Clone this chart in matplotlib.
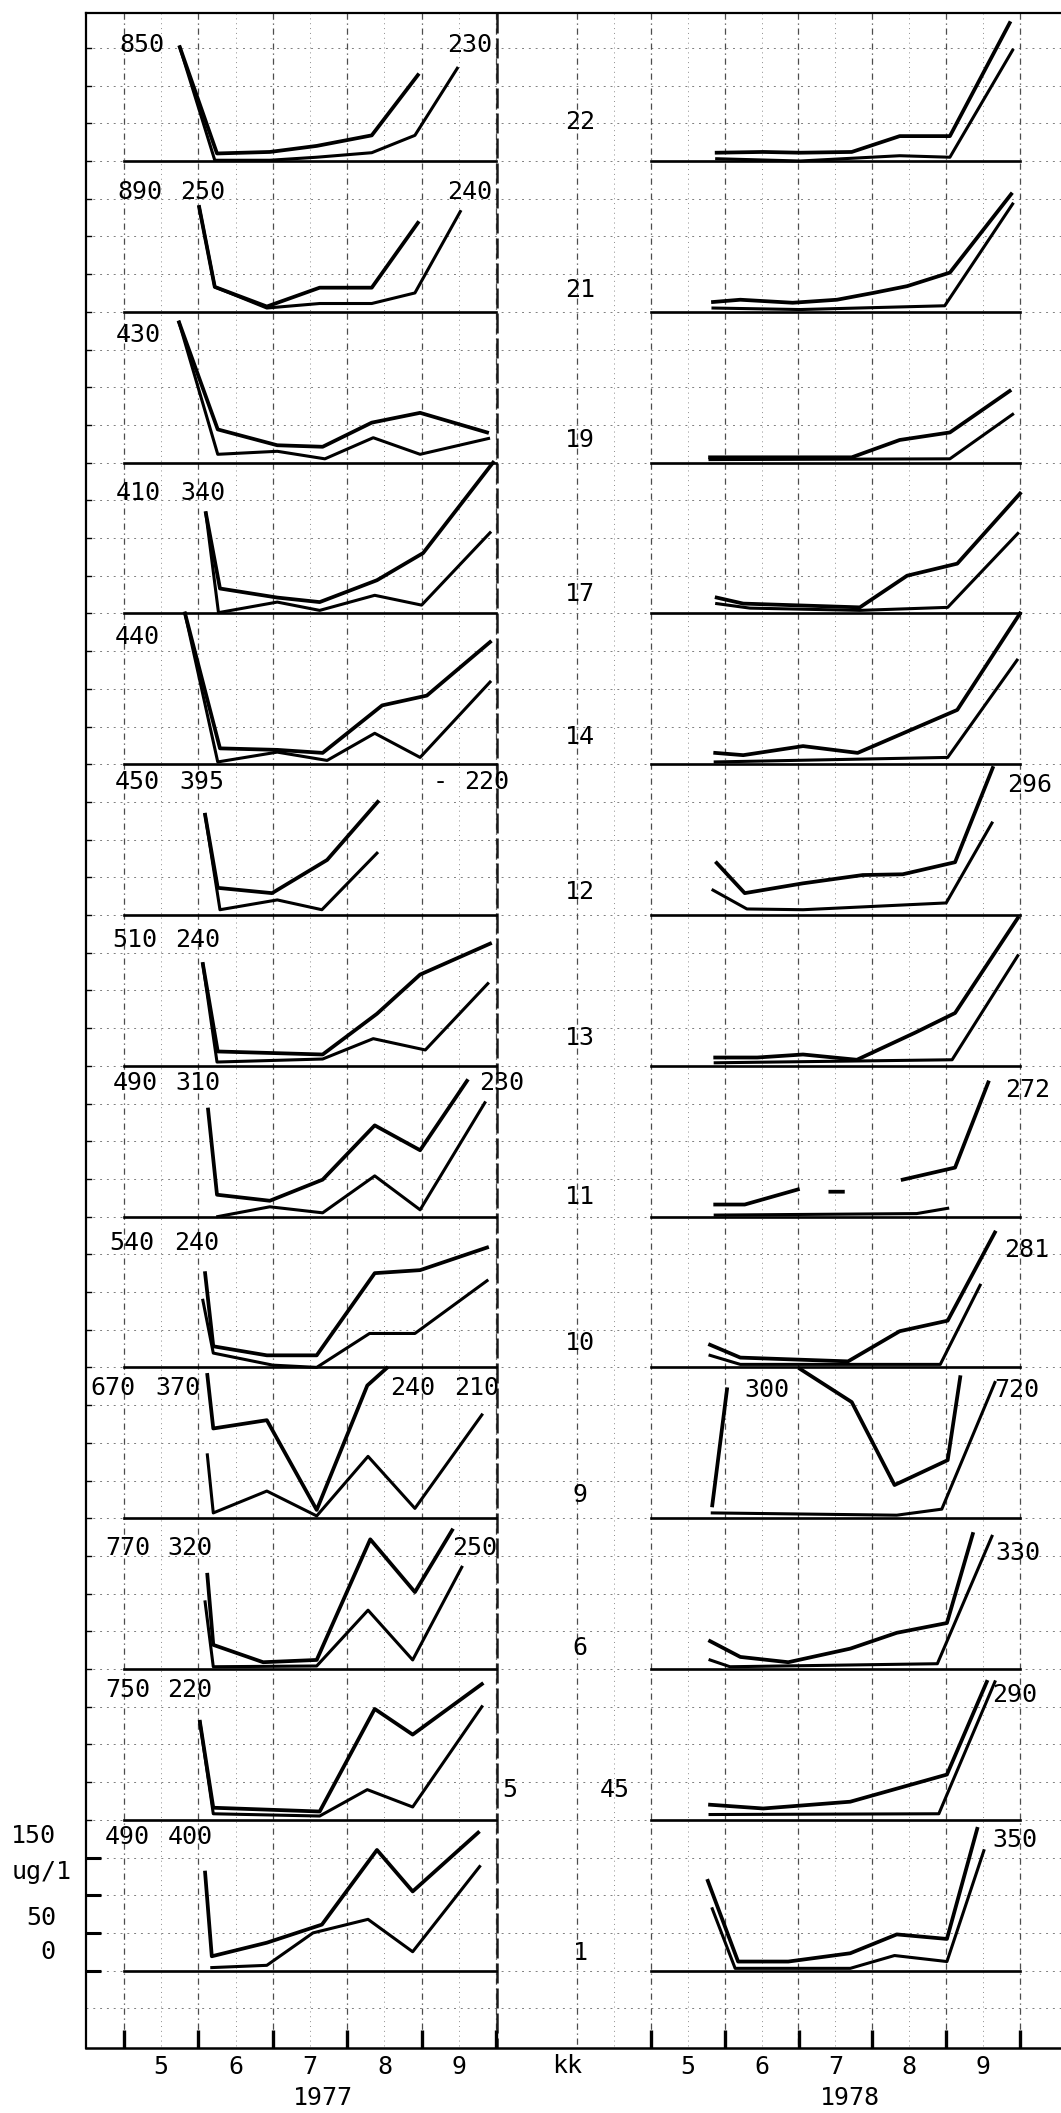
import numpy as np
import matplotlib
matplotlib.use("Agg")
import matplotlib.pyplot as plt

nan = np.nan

# ---------------- data (months as decimal, values in ug/l as drawn) ----------------
stations = ["22", "21", "19", "17", "14", "12", "13", "11", "10", "9", "6", "5 45", "1"]
months = ["5", "6", "7", "8", "9"]
years = ["1977", "1978"]

x77_up = {
    "22": [5.75, 6.25, 6.96, 7.59, 8.33, 8.95],
    "21": [6.01, 6.22, 6.92, 7.63, 8.33, 8.95],
    "19": [5.74, 6.26, 7.06, 7.67, 8.33, 8.98, 9.88],
    "17": [6.10, 6.29, 7.06, 7.63, 8.40, 9.02, 9.96],
    "14": [5.82, 6.29, 7.06, 7.67, 8.47, 9.07, 9.92],
    "12": [6.09, 6.26, 6.99, 7.73, 8.41],
    "13": [6.06, 6.26, 7.67, 8.40, 8.98, 9.92],
    "11": [6.13, 6.25, 6.96, 7.67, 8.37, 8.98, 9.61],
    "10": [6.09, 6.20, 6.92, 7.59, 8.37, 8.98, 9.88],
    "9":  [6.12, 6.20, 6.92, 7.59, 8.27, 8.53],
    "6":  [6.12, 6.20, 6.87, 7.59, 8.31, 8.91, 9.41],
    "5 45": [6.02, 6.20, 7.63, 8.37, 8.88, 9.81],
    "1":  [6.09, 6.18, 6.92, 7.66, 8.40, 8.88, 9.76],
}
v77_up = {
    "22": [151, 10, 12, 20, 34, 114],
    "21": [139, 33, 7, 32, 32, 118],
    "19": [186, 44, 23, 21, 53, 66, 40],
    "17": [133, 33, 21, 15, 44, 80, 200],
    "14": [200, 21, 19, 15, 78, 91, 162],
    "12": [133, 36, 29, 73, 150],
    "13": [135, 19, 15, 69, 121, 162],
    "11": [142, 29, 21, 49, 121, 88, 180],
    "10": [125, 28, 16, 16, 125, 129, 159],
    "9":  [190, 119, 130, 11, 176, 199],
    "6":  [125, 32, 9, 12, 172, 102, 184],
    "5 45": [130, 16, 11, 147, 113, 180],
    "1":  [130, 19, 37, 61, 160, 105, 183],
}
x77_lo = {
    "22": [5.75, 6.22, 6.96, 7.59, 8.33, 8.91, 9.48],
    "21": [6.01, 6.22, 6.92, 7.63, 8.33, 8.91, 9.52],
    "19": [5.74, 6.26, 7.06, 7.70, 8.35, 8.98, 9.90],
    "17": [6.10, 6.27, 7.06, 7.63, 8.37, 9.00, 9.92],
    "14": [5.82, 6.26, 7.06, 7.73, 8.37, 8.98, 9.92],
    "12": [6.09, 6.29, 7.06, 7.66, 8.40],
    "13": [6.06, 6.25, 7.67, 8.35, 9.05, 9.89],
    "11": [6.26, 6.96, 7.67, 8.37, 8.98, 9.85],
    "10": [6.06, 6.20, 7.00, 7.59, 8.30, 8.91, 9.88],
    "9":  [6.12, 6.20, 6.92, 7.59, 8.28, 8.91, 9.81],
    "6":  [6.09, 6.20, 7.59, 8.28, 8.88, 9.54],
    "5 45": [6.02, 6.20, 7.63, 8.27, 8.88, 9.81],
    "1":  [6.18, 6.92, 7.54, 8.28, 8.88, 9.78],
}
v77_lo = {
    "22": [151, 1, 1, 5, 11, 34, 123],
    "21": [139, 33, 5, 11, 11, 25, 133],
    "19": [186, 11, 15, 5, 33, 11, 32],
    "17": [133, 1, 15, 4, 24, 11, 107],
    "14": [200, 3, 16, 5, 41, 9, 109],
    "12": [133, 7, 20, 7, 82],
    "13": [135, 5, 9, 36, 21, 109],
    "11": [0, 13, 5, 54, 9, 151],
    "10": [89, 19, 3, 0, 45, 45, 115],
    "9":  [84, 7, 36, 3, 82, 13, 137],
    "6":  [89, 3, 4, 78, 12, 135],
    "5 45": [130, 8, 5, 40, 17, 150],
    "1":  [4, 7, 50, 68, 25, 138],
}
x78_up = {
    "22": [5.89, 6.52, 7.02, 7.72, 8.37, 9.05, 9.86],
    "21": [5.84, 6.21, 6.92, 7.52, 8.01, 8.47, 9.05, 9.88],
    "19": [5.80, 7.02, 7.72, 8.37, 9.05, 9.86],
    "17": [5.89, 6.25, 7.83, 8.47, 9.15, 10.0],
    "14": [5.87, 6.25, 7.06, 7.80, 9.15, 10.0],
    "12": [5.89, 6.27, 7.06, 7.87, 8.41, 9.12, 9.63],
    "13": [5.87, 6.44, 7.06, 7.79, 8.58, 9.12, 9.97],
    "11": [5.87, 6.27, 6.99, 7.20, 7.43, 7.60, 7.90, 8.41, 9.12, 9.57],
    "10": [5.80, 6.21, 7.67, 8.37, 9.02, 9.66],
    "9":  [5.83, 6.03, 6.50, 7.02, 7.72, 8.30, 9.02, 9.19],
    "6":  [5.80, 6.21, 6.86, 7.70, 8.33, 9.01, 9.36],
    "5 45": [5.80, 6.52, 7.70, 9.01, 9.55],
    "1":  [5.77, 6.18, 6.86, 7.70, 8.33, 9.01, 9.42],
}
v78_up = {
    "22": [11, 12, 11, 12, 33, 33, 183],
    "21": [13, 16, 12, 16, 25, 34, 52, 156],
    "19": [7, 7, 7, 30, 40, 95],
    "17": [21, 13, 8, 50, 66, 159],
    "14": [15, 12, 24, 15, 72, 200],
    "12": [69, 29, 42, 53, 54, 70, 195],
    "13": [11, 11, 15, 8, 44, 70, 196],
    "11": [16, 16, 36, nan, 33, 33, nan, 49, 65, 178],
    "10": [30, 13, 8, 48, 62, 179],
    "9":  [17, 171, nan, 198, 154, 44, 77, 187],
    "6":  [37, 16, 9, 27, 48, 61, 179],
    "5 45": [20, 15, 24, 60, 183],
    "1":  [119, 12, 12, 23, 48, 42, 188],
}
x78_lo = {
    "22": [5.89, 7.02, 8.37, 9.05, 9.90],
    "21": [5.84, 7.02, 8.98, 9.90],
    "19": [5.80, 9.05, 9.90],
    "17": [5.89, 6.34, 7.83, 9.02, 9.97],
    "14": [5.87, 9.02, 9.96],
    "12": [5.84, 6.30, 7.06, 9.00, 9.62],
    "13": [5.87, 9.08, 9.97],
    "11": [5.87, 8.60, 9.02],
    "10": [5.80, 6.21, 8.92, 9.46],
    "9":  [5.83, 8.33, 8.94, 9.66],
    "6":  [5.80, 6.07, 8.88, 9.62],
    "5 45": [5.80, 8.90, 9.66],
    "1":  [5.83, 6.14, 7.70, 8.30, 9.01, 9.51],
}
v78_lo = {
    "22": [3, 0, 7, 5, 147],
    "21": [5, 3, 8, 143],
    "19": [4, 5, 64],
    "17": [13, 7, 4, 8, 106],
    "14": [3, 9, 138],
    "12": [33, 8, 7, 16, 122],
    "13": [4, 8, 146],
    "11": [2, 4, 11],
    "10": [16, 4, 4, 109],
    "9":  [7, 4, 12, 180],
    "6":  [12, 3, 7, 176],
    "5 45": [7, 8, 183],
    "1":  [82, 3, 3, 20, 12, 159],
}

# off-scale values written on the chart (text, x px, y px)
peak_labels = [
    ("850", 142, 45), ("230", 470, 45),
    ("890", 140, 192), ("250", 203, 192), ("240", 470, 192),
    ("430", 138, 335),
    ("410", 138, 493), ("340", 203, 493),
    ("440", 137, 637),
    ("450", 137, 782), ("395", 202, 782), ("-", 440, 782), ("220", 487, 782),
    ("296", 1030, 785),
    ("510", 135, 940), ("240", 198, 940),
    ("490", 135, 1083), ("310", 198, 1083), ("230", 502, 1083),
    ("272", 1028, 1090),
    ("540", 132, 1243), ("240", 197, 1243),
    ("281", 1027, 1250),
    ("670", 113, 1388), ("370", 178, 1388), ("240", 413, 1388), ("210", 477, 1388),
    ("300", 767, 1390), ("720", 1017, 1390),
    ("770", 128, 1548), ("320", 190, 1548), ("250", 475, 1548),
    ("330", 1018, 1553),
    ("750", 128, 1690), ("220", 190, 1690),
    ("290", 1015, 1695),
    ("490", 127, 1837), ("400", 190, 1837),
    ("350", 1015, 1840),
]
station_label_y = [122, 290, 440, 594, 737, 892, 1038, 1197, 1343, 1495, 1648, 1790, 1953]

# ---------------- layout ----------------
W, H, DPI = 1061, 2113, 100
FONT = "DejaVu Sans Mono"
FS = 18
plt.rcParams["font.family"] = [FONT, "DejaVu Sans"]

fig = plt.figure(figsize=(W / DPI, H / DPI), dpi=DPI)
fig.patch.set_facecolor("white")

bg = fig.add_axes([0, 0, 1, 1])
bg.set_xlim(0, W)
bg.set_ylim(H, 0)
bg.axis("off")

ROW0, ROWH = 161.0, 150.8          # baseline of first row, row height (px) = 200 ug/l
TOP, BOT, FRAME_X = 13, 2048, 86
panels = [(124.0, 496.0), (651.0, 1020.0)]   # px of month 5.0 and 10.0

# horizontal dotted grid every 50 ug/l
for j in range(0, 54):
    y = ROW0 - ROWH + j * ROWH / 4
    if y < TOP + 2 or y > BOT - 2:
        continue
    bg.plot([FRAME_X, W], [y, y], color="0.5", lw=0.7, ls=(0, (2, 5)), zorder=1)

# vertical grid
for k in range(11):
    x = 124 + k * 37.2
    major = k % 2 == 0
    bg.plot([x, x], [TOP, BOT], color="0.3" if major else "0.55",
            lw=0.9 if major else 0.7, ls=(0, (5, 3, 1, 3)) if major else (0, (1, 4)), zorder=1)
for k in range(13):
    x = 577 + k * 36.9
    major = k % 2 == 0
    bg.plot([x, x], [TOP, BOT], color="0.3" if major else "0.55",
            lw=0.9 if major else 0.7, ls=(0, (5, 3, 1, 3)) if major else (0, (1, 4)), zorder=1)
bg.plot([497, 497], [TOP, BOT], color="0.1", lw=1.8, ls=(0, (8, 2)), zorder=2)

# frame
bg.plot([FRAME_X, W], [TOP, TOP], color="k", lw=1.6, zorder=3)
bg.plot([FRAME_X, FRAME_X], [TOP, BOT], color="k", lw=1.6, zorder=3)
bg.plot([FRAME_X, W], [BOT, BOT], color="k", lw=1.8, zorder=3)
for j in range(0, 54):
    y = ROW0 - ROWH + j * ROWH / 4
    if TOP < y < BOT - 60:
        bg.plot([FRAME_X, FRAME_X + 5], [y, y], color="k", lw=1.0, zorder=3)


def fig_rect(x0, x1, y_bottom, height):
    return [x0 / W, 1 - y_bottom / H, (x1 - x0) / W, height / H]


data = [(x77_up, v77_up, x77_lo, v77_lo), (x78_up, v78_up, x78_lo, v78_lo)]
for k, st in enumerate(stations):
    base = ROW0 + k * ROWH
    for p, (x0, x1) in enumerate(panels):
        ax = fig.add_axes(fig_rect(x0, x1, base, ROWH))
        ax.set_xlim(5, 10)
        ax.set_ylim(0, 200)
        ax.axis("off")
        ax.patch.set_alpha(0)
        ax.plot([5, 10], [0, 0], color="k", lw=1.9, clip_on=False)
        xu, vu, xl, vl = data[p]
        ax.plot(xu[st], vu[st], color="k", lw=2.7, clip_on=False, solid_joinstyle="round")
        ax.plot(xl[st], vl[st], color="k", lw=2.2, clip_on=False, solid_joinstyle="round")

    # station label in the middle column
    parts = st.split()
    if len(parts) == 2:
        bg.text(510, station_label_y[k], parts[0], fontsize=FS, ha="center", va="center", zorder=5)
        bg.text(615, station_label_y[k], parts[1], fontsize=FS, ha="center", va="center", zorder=5)
    else:
        bg.text(580, station_label_y[k], st, fontsize=FS, ha="center", va="center", zorder=5)

for txt, x, y in peak_labels:
    bg.text(x, y, txt, fontsize=FS, ha="center", va="center", zorder=5)

# y scale on the frame (bottom row)
ay = fig.add_axes(fig_rect(FRAME_X, FRAME_X + 1, ROW0 + 12 * ROWH, ROWH))
ay.set_ylim(0, 200)
ay.set_xticks([])
for s in ["top", "right", "bottom", "left"]:
    ay.spines[s].set_visible(False)
ay.patch.set_alpha(0)
ay.set_yticks([0, 50, 100, 150])
ay.tick_params(axis="y", direction="in", length=11, width=2.2, labelleft=False)
for txt, x, y in [("150", 33, 1836), ("ug/1", 42, 1872), ("50", 41, 1918), ("0", 48, 1952)]:
    bg.text(x, y, txt, fontsize=FS, ha="center", va="center")

# bottom month axes
for p, (x0, x1) in enumerate(panels):
    axb = fig.add_axes(fig_rect(x0, x1, BOT, 1))
    axb.set_xlim(5, 10)
    axb.set_ylim(0, 1)
    for s in ["top", "right", "left", "bottom"]:
        axb.spines[s].set_visible(False)
    axb.patch.set_alpha(0)
    axb.set_yticks([])
    axb.set_xticks([5, 6, 7, 8, 9, 10])
    axb.set_xticklabels([])
    axb.set_xticks([5.5, 6.5, 7.5, 8.5, 9.5], minor=True)
    axb.set_xticklabels(months, minor=True, fontsize=FS, family=FONT)
    axb.tick_params(axis="x", which="major", direction="in", length=13, width=2.4, color="k")
    axb.tick_params(axis="x", which="minor", length=0, pad=5)

bg.text(323, 2098, years[0], fontsize=FS, ha="center", va="center")
bg.text(850, 2098, years[1], fontsize=FS, ha="center", va="center")
bg.text(567, 2066, "kk", fontsize=FS, ha="center", va="center")

fig.savefig("out.png", dpi=DPI, facecolor="white")
